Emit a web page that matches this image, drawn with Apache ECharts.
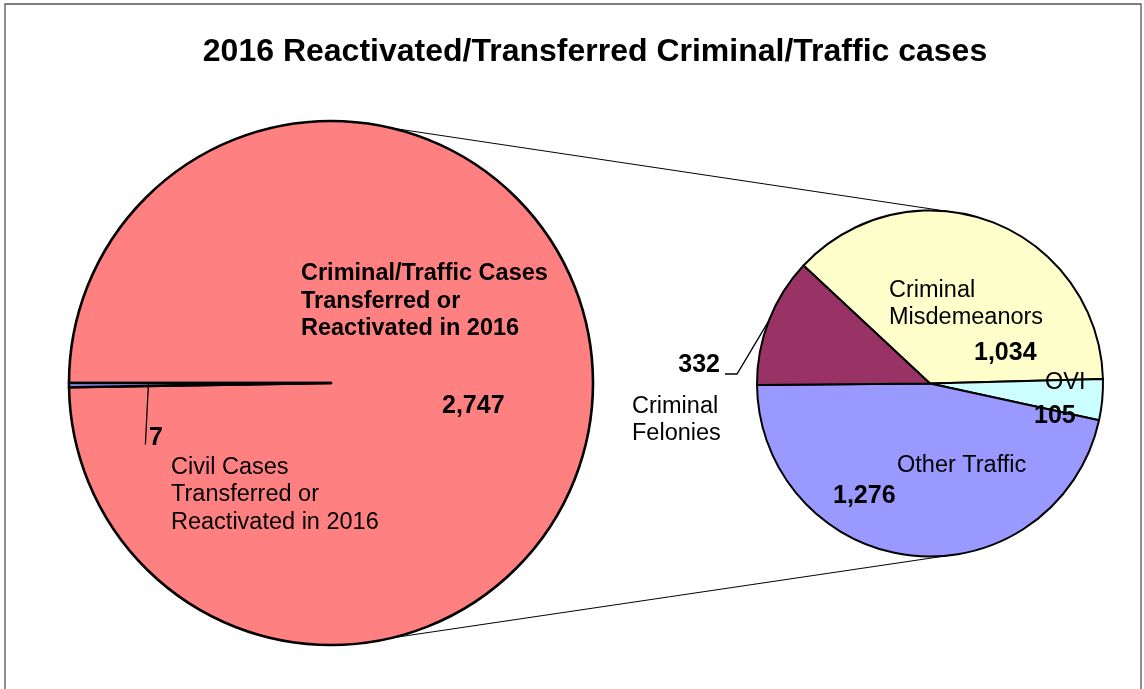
<!DOCTYPE html>
<html>
<head>
<meta charset="utf-8">
<script src="https://cdn.jsdelivr.net/npm/echarts@6/dist/echarts.min.js"></script>
<style>
html,body{margin:0;padding:0;background:#fff;}
#c{width:1144px;height:689px;}
</style>
</head>
<body>
<div id="c"></div>
<script>
// ---- data ----
const titleText = '2016 Reactivated/Transferred Criminal/Traffic cases';
const leftCategories = ['Criminal/Traffic Cases\nTransferred or\nReactivated in 2016', 'Civil Cases\nTransferred or\nReactivated in 2016'];
const leftValues = [2747, 7];
const leftColors = ['#FF8080', '#9999FF'];
const rightCategories = ['Criminal\nMisdemeanors', 'OVI', 'Other Traffic', 'Criminal\nFelonies'];
const rightValues = [1034, 105, 1276, 332];
const rightColors = ['#FFFFCC', '#CCFFFF', '#9999FF', '#993366'];

// ---- layout ----
const L = {cx: 331, cy: 383, r: 262, start: 180};
const R = {cx: 930, cy: 383.5, r: 173, start: 137};
const FONT = '"Liberation Sans", Arial, sans-serif';
const NAME_FS = 23.5, NAME_LH = 27.5, VAL_FS = 25, VAL_LH = 28;

// label anchor positions (left / top of text block)
const leftNamePos = [[301, 260], [171, 453.5]];
const leftNameBold = [true, false];
const leftValPos = [[442, 392.5], [149, 424.5]];
const rightNamePos = [[889, 276.5], [1045, 368.5], [897, 451.5], [632, 392.5]];
const rightValPos = [[974, 339.5], [1034, 402.5], [833, 482.5], [720, 351.5]];
const rightValAlign = ['left', 'left', 'left', 'right'];

const fmt = v => v.toLocaleString('en-US');

function pt(c, ang, rr) {
  const a = ang * Math.PI / 180;
  return [c.cx + rr * Math.cos(a), c.cy - rr * Math.sin(a)];
}
function midAngle(vals, idx, start) {
  const tot = vals.reduce((a, b) => a + b, 0);
  let acc = 0;
  for (let i = 0; i < idx; i++) acc += vals[i];
  return start - (acc + vals[idx] / 2) / tot * 360;
}

// leader lines
const civilMid = midAngle(leftValues, 1, L.start);
const civilP0 = pt(L, civilMid, L.r * 0.697);
const civilLine = [civilP0, [civilP0[0] - 1.5, civilP0[1] + 30], [civilP0[0] - 3, civilP0[1] + 60]];
const felMid = midAngle(rightValues, 3, R.start);
const felP0 = pt(R, felMid, R.r);
const felLine = [felP0, [737, 374], [725, 374]];

const baseSeries = (c, names, vals, colors, bw) => ({
  type: 'pie',
  center: [c.cx, c.cy],
  radius: c.r,
  startAngle: c.start,
  clockwise: true,
  avoidLabelOverlap: false,
  animation: false,
  silent: true,
  emphasis: {disabled: true},
  data: names.map((n, i) => ({name: n, value: vals[i], itemStyle: {color: colors[i]}})),
  itemStyle: {borderColor: '#000', borderWidth: bw},
});

const leftName = Object.assign(baseSeries(L, leftCategories, leftValues, leftColors, 2.6), {
  label: {
    show: true, position: 'inside',
    formatter: p => leftNameBold[p.dataIndex] ? '{b|' + p.name.split('\n').join('}\n{b|') + '}' : p.name,
    fontFamily: FONT, fontSize: NAME_FS, lineHeight: NAME_LH, color: '#000',
    rich: {b: {fontFamily: FONT, fontSize: NAME_FS, lineHeight: NAME_LH, fontWeight: 'bold', color: '#000'}}
  },
  labelLine: {show: false},
  labelLayout: p => ({x: leftNamePos[p.dataIndex][0], y: leftNamePos[p.dataIndex][1], align: 'left', verticalAlign: 'top'})
});
leftName.z = 2;

const leftVal = Object.assign(baseSeries(L, leftCategories, leftValues, ['rgba(0,0,0,0)', 'rgba(0,0,0,0)'], 0), {
  label: {show: true, position: 'outside', formatter: p => fmt(p.value),
    fontFamily: FONT, fontSize: VAL_FS, lineHeight: VAL_LH, fontWeight: 'bold', color: '#000'},
  labelLine: {show: true, length: 5, length2: 5, lineStyle: {color: '#000', width: 1.3}},
  labelLayout: p => {
    const o = {x: leftValPos[p.dataIndex][0], y: leftValPos[p.dataIndex][1], align: 'left', verticalAlign: 'top'};
    if (p.dataIndex === 1) o.labelLinePoints = civilLine;
    return o;
  }
});
leftVal.data.forEach((d, i) => { d.labelLine = {show: i === 1}; });
leftVal.z = 3;

const rightName = Object.assign(baseSeries(R, rightCategories, rightValues, rightColors, 2), {
  label: {show: true, position: 'inside', formatter: p => p.name,
    fontFamily: FONT, fontSize: NAME_FS, lineHeight: NAME_LH, color: '#000'},
  labelLine: {show: false},
  labelLayout: p => ({x: rightNamePos[p.dataIndex][0], y: rightNamePos[p.dataIndex][1], align: 'left', verticalAlign: 'top'})
});
rightName.z = 2;

const rightVal = Object.assign(baseSeries(R, rightCategories, rightValues, rightColors.map(() => 'rgba(0,0,0,0)'), 0), {
  label: {show: true, position: 'outside', formatter: p => fmt(p.value),
    fontFamily: FONT, fontSize: VAL_FS, lineHeight: VAL_LH, fontWeight: 'bold', color: '#000'},
  labelLine: {show: true, length: 5, length2: 5, lineStyle: {color: '#000', width: 1.3}},
  labelLayout: p => {
    const o = {x: rightValPos[p.dataIndex][0], y: rightValPos[p.dataIndex][1], align: rightValAlign[p.dataIndex], verticalAlign: 'top'};
    if (p.dataIndex === 3) o.labelLinePoints = felLine;
    return o;
  }
});
rightVal.data.forEach((d, i) => { d.labelLine = {show: i === 3}; });
rightVal.z = 3;

// connector lines between the two pies
const cTopL = pt(L, 76.7, L.r), cTopR = pt(R, 84, R.r);
const cBotL = pt(L, -76.7, L.r), cBotR = pt(R, -84, R.r);

const chart = echarts.init(document.getElementById('c'), null, {renderer: 'canvas'});
chart.setOption({
  backgroundColor: '#fff',
  animation: false,
  title: {
    text: titleText, left: 595, top: 36.5, textAlign: 'center', padding: 0,
    textStyle: {fontFamily: FONT, fontSize: 32, fontWeight: 'bold', color: '#000'}
  },
  graphic: [
    {type: 'rect', shape: {x: 5, y: 4, width: 1136, height: 720}, style: {fill: null, stroke: '#555', lineWidth: 1.3}, z: 0, silent: true},
    {type: 'line', shape: {x1: cTopL[0], y1: cTopL[1], x2: cTopR[0], y2: cTopR[1]}, style: {stroke: '#000', lineWidth: 1}, z: 0, silent: true},
    {type: 'line', shape: {x1: cBotL[0], y1: cBotL[1], x2: cBotR[0], y2: cBotR[1]}, style: {stroke: '#000', lineWidth: 1}, z: 0, silent: true}
  ],
  series: [leftName, leftVal, rightName, rightVal]
});
</script>
</body>
</html>
